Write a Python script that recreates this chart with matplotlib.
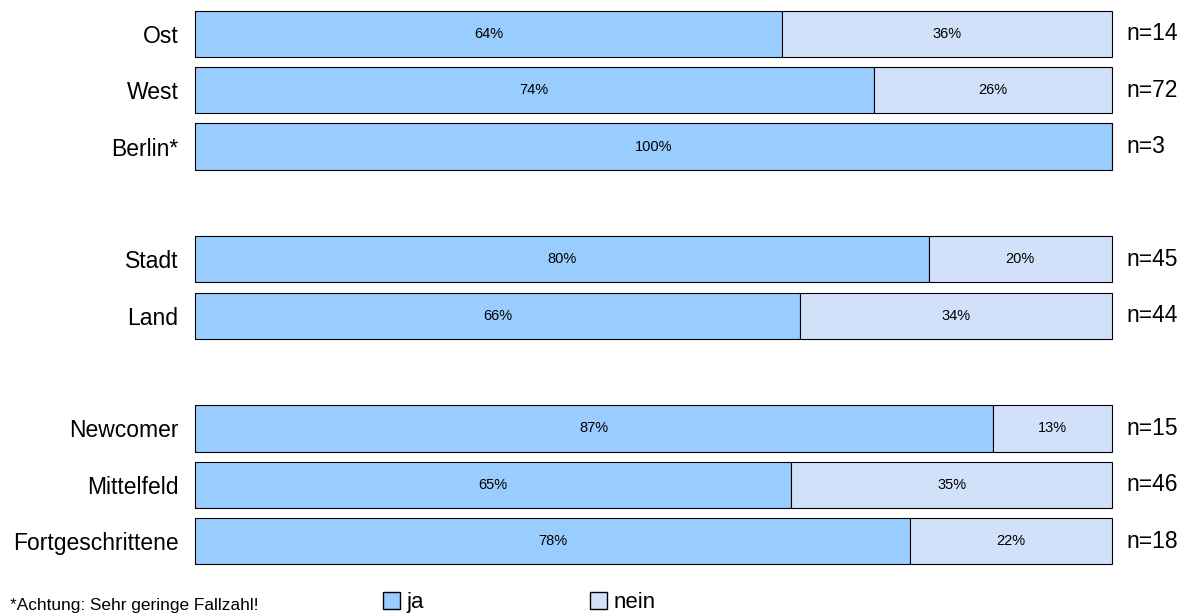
import numpy as np
import matplotlib.pyplot as plt
from matplotlib.patches import Patch

plt.rcParams['font.family'] = ['Liberation Sans', 'DejaVu Sans']

categories = ['Ost', 'West', 'Berlin*', 'Stadt', 'Land', 'Newcomer', 'Mittelfeld', 'Fortgeschrittene']
slots = [0, 1, 2, 4, 5, 7, 8, 9]
ja = [64, 74, 100, 80, 66, 87, 65, 78]
nein = [36, 26, 0, 20, 34, 13, 35, 22]
n_values = [14, 72, 3, 45, 44, 15, 46, 18]

col_ja = '#99CCFF'
col_nein = '#D2E1FA'

fig = plt.figure(figsize=(11.84, 6.16), dpi=100)
ax = fig.add_axes([0.1647, 0.0666, 0.7745, 0.9334])

y = np.array(slots)
ja = np.array(ja)
nein = np.array(nein)
bars1 = ax.barh(y, ja, height=0.82, color=col_ja, edgecolor='black', linewidth=0.8)
bars2 = ax.barh(y, nein, left=ja, height=0.82, color=col_nein, edgecolor='black', linewidth=0.8)
for b in list(bars1) + list(bars2):
    b.set_clip_on(False)

# percentage labels inside the segments
for yi, a, b in zip(y, ja, nein):
    ax.text(a / 2, yi, '{:d}%'.format(a), ha='center', va='center', fontsize=10.5)
    if b > 0:
        ax.text(a + b / 2, yi, '{:d}%'.format(b), ha='center', va='center', fontsize=10.5)

# n on the right
for yi, n in zip(y, n_values):
    ax.text(101.6, yi, 'n={:d}'.format(n), ha='left', va='center', fontsize=16.5)

ax.set_xlim(0, 100)
ax.set_ylim(9.6, -0.6)
ax.set_yticks(y)
ax.set_yticklabels(categories, fontsize=16.5)
ax.tick_params(axis='y', length=0, pad=12)
ax.set_xticks([])
for s in ax.spines.values():
    s.set_visible(False)

fig.text(0.0085, 0.009, '*Achtung: Sehr geringe Fallzahl!', fontsize=12.4, ha='left', va='baseline')

handles = [Patch(facecolor=col_ja, edgecolor='black', label='ja'),
           Patch(facecolor=col_nein, edgecolor='black', label='nein')]
fig.legend(handles=handles, loc='lower left', bbox_to_anchor=(0.307, -0.028), ncol=2,
           frameon=False, fontsize=16, handlelength=0.75, handleheight=0.75,
           handletextpad=0.3, columnspacing=7.46)

fig.savefig('out.png', dpi=100)
